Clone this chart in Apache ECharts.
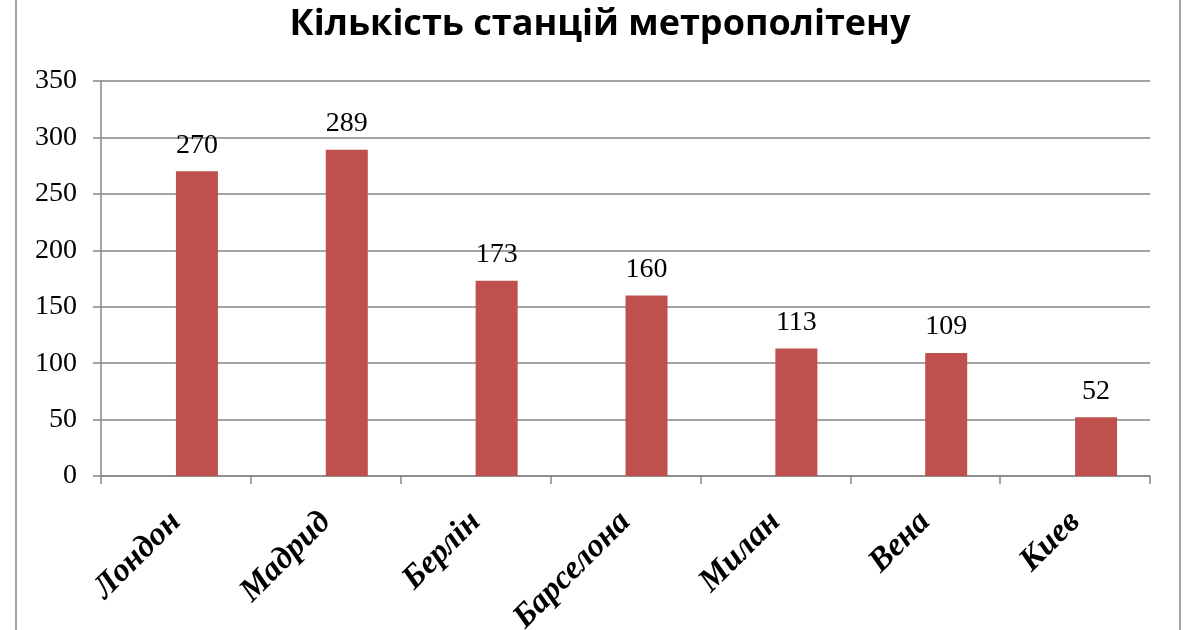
<!DOCTYPE html>
<html><head><meta charset="utf-8">
<script src="https://cdn.jsdelivr.net/npm/echarts@6/dist/echarts.min.js"></script>
<style>html,body{margin:0;padding:0;background:#fff}#c{width:1200px;height:630px}</style>
</head><body><div id="c"></div>
<script>
const titleText = 'Кількість станцій метрополітену';
const categories = ['Лондон', 'Мадрид', 'Берлін', 'Барселона', 'Милан', 'Вена', 'Киев'];
const stations = [270, 289, 173, 160, 113, 109, 52];

const chart = echarts.init(document.getElementById('c'));
chart.setOption({
  backgroundColor: '#fff',
  animation: false,
  title: {
    text: titleText, left: 'center', top: 2,
    textStyle: { fontFamily: 'Open Sans', fontWeight: 'bold', fontSize: 36, color: '#000' }
  },
  graphic: [
    { type: 'line', shape: { x1: 16, y1: 0, x2: 16, y2: 630 }, style: { stroke: '#868686', lineWidth: 1.5 } },
    { type: 'line', shape: { x1: 1180, y1: 0, x2: 1180, y2: 630 }, style: { stroke: '#868686', lineWidth: 1.5 } }
  ],
  grid: { left: 101, right: 50, top: 81, bottom: 154, containLabel: false, outerBoundsMode: 'none' },
  xAxis: {
    type: 'category', data: categories,
    axisLine: { lineStyle: { color: '#868686', width: 1.5 } },
    axisTick: { show: true, length: 8, lineStyle: { color: '#868686', width: 1.5 } },
    axisLabel: {
      rotate: 45, margin: 41, interval: 0,
      fontFamily: 'Liberation Serif', fontStyle: 'italic', fontWeight: 'bold', fontSize: 33, color: '#000'
    }
  },
  yAxis: {
    type: 'value', min: 0, max: 350, interval: 50,
    axisLine: { show: true, lineStyle: { color: '#868686', width: 1.5 } },
    axisTick: { show: true, length: 8, lineStyle: { color: '#868686', width: 1.5 } },
    splitLine: { lineStyle: { color: '#868686', width: 1.5 } },
    axisLabel: { margin: 24, fontFamily: 'Liberation Serif', fontSize: 28, color: '#000' }
  },
  series: [
    { type: 'bar', name: 'empty', data: [], barWidth: 42, barGap: '0%' },
    {
      type: 'bar', name: 'stations', data: stations, barWidth: 42, barGap: '0%',
      itemStyle: { color: '#C0504D' },
      label: { show: true, position: 'top', distance: 12, fontFamily: 'Liberation Serif', fontSize: 28, color: '#000' }
    }
  ]
});
</script></body></html>
